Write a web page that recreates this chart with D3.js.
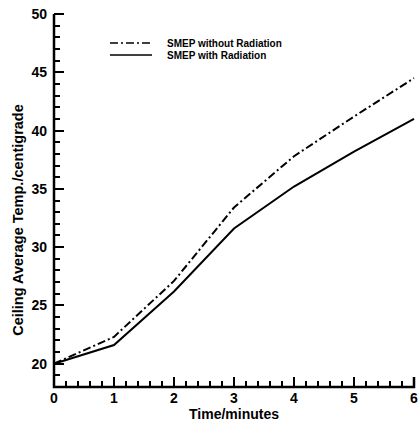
<!DOCTYPE html>
<html>
<head>
<meta charset="utf-8">
<script src="https://cdn.jsdelivr.net/npm/d3@7"></script>
<style>
  body { margin: 0; background: #fff; }
  svg { font-family: "Liberation Sans", Arial, sans-serif; }
</style>
</head>
<body>
<svg id="chart"></svg>
<script>
// values
const times = [0, 1, 2, 3, 4, 5, 6];
const withoutRadiation = [20.0, 22.3, 27.1, 33.4, 37.8, 41.2, 44.5];
const withRadiation = [20.0, 21.6, 26.2, 31.6, 35.2, 38.2, 41.0];
const seriesNames = ["SMEP without Radiation", "SMEP with Radiation"];
const xTicks = [0, 1, 2, 3, 4, 5, 6];
const yTicks = [20, 25, 30, 35, 40, 45, 50];

const width = 418;
const height = 424;
const margin = { top: 14, right: 4, bottom: 37, left: 54 };

const svg = d3.select("#chart")
  .attr("width", width)
  .attr("height", height);

const x = d3.scaleLinear()
  .domain([0, 6])
  .range([margin.left, width - margin.right]);
const y = d3.scaleLinear()
  .domain([18, 50])
  .range([height - margin.bottom, margin.top]);

const x0 = margin.left;
const y0 = height - margin.bottom;

// minor + major ticks, drawn inward
const xMinor = d3.range(0, 31).map(i => i / 5);
const yMinor = d3.range(18, 51);
const isMajorX = d => Math.abs(d - Math.round(d)) < 1e-6;

const ticks = svg.append("g").attr("class", "ticks");
xMinor.forEach(d => {
  const len = isMajorX(d) ? 10 : 6;
  ticks.append("rect")
    .attr("x", Math.round(x(d)) - 1)
    .attr("y", y0 - len)
    .attr("width", 2)
    .attr("height", len)
    .attr("fill", "black");
});
yMinor.forEach(d => {
  const len = d % 5 === 0 ? 10 : 6;
  ticks.append("rect")
    .attr("x", x0)
    .attr("y", Math.round(y(d)) - 1)
    .attr("width", len)
    .attr("height", 2)
    .attr("fill", "black");
});

// axis lines
svg.append("path")
  .attr("d", `M${x0},${y(50)}V${y0}H${x(6)}V${y0 - 10}`)
  .attr("stroke", "black")
  .attr("stroke-width", 2.5)
  .attr("fill", "none");

// tick labels
svg.append("g").selectAll("text")
  .data(xTicks)
  .join("text")
  .attr("x", d => x(d))
  .attr("y", y0 + 16)
  .attr("text-anchor", "middle")
  .attr("font-size", 14)
  .attr("font-weight", "bold")
  .text(d => d);

svg.append("g").selectAll("text")
  .data(yTicks)
  .join("text")
  .attr("x", x0 - 7)
  .attr("y", d => y(d) + 5)
  .attr("text-anchor", "end")
  .attr("font-size", 14)
  .attr("font-weight", "bold")
  .text(d => d);

// axis titles
svg.append("text")
  .attr("x", (margin.left + width - margin.right) / 2)
  .attr("y", 419)
  .attr("text-anchor", "middle")
  .attr("font-size", 14)
  .attr("font-weight", "bold")
  .text("Time/minutes");

svg.append("text")
  .attr("transform", `translate(23,${220}) rotate(-90)`)
  .attr("text-anchor", "middle")
  .attr("font-size", 14.5)
  .attr("font-weight", "bold")
  .text("Ceiling Average Temp./centigrade");

// lines
const line = d3.line()
  .x((d, i) => x(times[i]))
  .y(d => y(d));

const dashes = ["8,3,2,3", null];
[withoutRadiation, withRadiation].forEach((vals, k) => {
  svg.append("path")
    .datum(vals)
    .attr("fill", "none")
    .attr("stroke", "#000")
    .attr("stroke-width", 2)
    .attr("stroke-dasharray", dashes[k])
    .attr("d", line);
});

// legend
const legend = svg.append("g");
seriesNames.forEach((name, k) => {
  const ly = 43 + k * 12;
  legend.append("line")
    .attr("x1", 110).attr("x2", 152)
    .attr("y1", ly).attr("y2", ly)
    .attr("stroke", "#000")
    .attr("stroke-width", 1.3)
    .attr("stroke-dasharray", dashes[k]);
  legend.append("text")
    .attr("x", 167)
    .attr("y", ly + 3.5)
    .attr("font-size", 10)
    .attr("font-weight", "bold")
    .text(name);
});
</script>
</body>
</html>
